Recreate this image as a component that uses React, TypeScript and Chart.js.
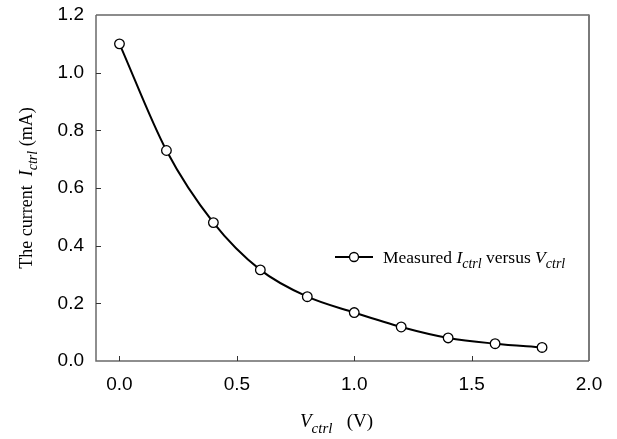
import React, { useEffect, useRef } from "react";
import { Chart, registerables } from "chart.js";

Chart.register(...registerables);

// ---- data ----
const V_CTRL = [0.0, 0.2, 0.4, 0.6, 0.8, 1.0, 1.2, 1.4, 1.6, 1.8];
const I_CTRL = [1.1, 0.73, 0.48, 0.316, 0.223, 0.168, 0.118, 0.08, 0.06, 0.047];
const X_TICKS = [0.0, 0.5, 1.0, 1.5, 2.0];
const Y_TICKS = [0.0, 0.2, 0.4, 0.6, 0.8, 1.0, 1.2];
const X_MIN = -0.1;
const X_MAX = 2.0;
const Y_MIN = 0;
const Y_MAX = 1.2;

const SANS = '"Liberation Sans", Arial, sans-serif';
const SERIF = '"Liberation Serif", "Times New Roman", serif';

type Seg = { t: string; it?: boolean; sub?: boolean };

const Y_TITLE: Seg[] = [
  { t: "The current  " },
  { t: "I", it: true },
  { t: "ctrl", it: true, sub: true },
  { t: " (mA)" },
];
const X_TITLE: Seg[] = [
  { t: "V", it: true },
  { t: "ctrl", it: true, sub: true },
  { t: "   (V)" },
];
const LEGEND_TEXT: Seg[] = [
  { t: "Measured " },
  { t: "I", it: true },
  { t: "ctrl", it: true, sub: true },
  { t: " versus " },
  { t: "V", it: true },
  { t: "ctrl", it: true, sub: true },
];

function drawRich(
  ctx: CanvasRenderingContext2D,
  segs: Seg[],
  x: number,
  y: number,
  size: number,
  align: "left" | "center"
) {
  const subSize = Math.round(size * 0.78);
  const fontOf = (s: Seg) => `${s.it ? "italic " : ""}${s.sub ? subSize : size}px ${SERIF}`;
  let w = 0;
  for (const s of segs) {
    ctx.font = fontOf(s);
    w += ctx.measureText(s.t).width;
  }
  let cx = align === "center" ? x - w / 2 : x;
  ctx.textAlign = "left";
  ctx.textBaseline = "alphabetic";
  ctx.fillStyle = "#000";
  for (const s of segs) {
    ctx.font = fontOf(s);
    ctx.fillText(s.t, cx, y + (s.sub ? size * 0.3 : 0));
    cx += ctx.measureText(s.t).width;
  }
}

const framePlugin = {
  id: "frameAndText",
  afterDraw(chart: any) {
    const ctx: CanvasRenderingContext2D = chart.ctx;
    const { left, right, top, bottom } = chart.chartArea;
    const xs = chart.scales.x;
    const ys = chart.scales.y;
    ctx.save();
    // frame
    ctx.lineCap = "butt";
    ctx.strokeStyle = "#1a1a1a";
    ctx.lineWidth = 1.2;
    ctx.beginPath();
    ctx.moveTo(left, top);
    ctx.lineTo(right, top);
    ctx.stroke();
    ctx.strokeStyle = "#7a7a7a";
    ctx.lineWidth = 2;
    ctx.beginPath();
    ctx.moveTo(right, top - 0.6);
    ctx.lineTo(right, bottom);
    ctx.stroke();
    ctx.strokeStyle = "#6a6a6a";
    ctx.lineWidth = 1.5;
    ctx.beginPath();
    ctx.moveTo(left, top);
    ctx.lineTo(left, bottom);
    ctx.lineTo(right, bottom);
    ctx.stroke();
    // inward ticks
    ctx.strokeStyle = "#333";
    ctx.lineWidth = 1;
    for (const v of X_TICKS) {
      if (v >= X_MAX) continue;
      const px = Math.round(xs.getPixelForValue(v)) + 0.5;
      ctx.beginPath();
      ctx.moveTo(px, bottom);
      ctx.lineTo(px, bottom - 5);
      ctx.stroke();
    }
    for (const v of Y_TICKS) {
      if (v <= Y_MIN || v >= Y_MAX) continue;
      const py = Math.round(ys.getPixelForValue(v)) + 0.5;
      ctx.beginPath();
      ctx.moveTo(left, py);
      ctx.lineTo(left + 5, py);
      ctx.stroke();
    }
    // legend
    const lx = left + 239;
    const ly = top + 242;
    ctx.strokeStyle = "#000";
    ctx.lineWidth = 2;
    ctx.beginPath();
    ctx.moveTo(lx, ly);
    ctx.lineTo(lx + 38, ly);
    ctx.stroke();
    ctx.beginPath();
    ctx.arc(lx + 19, ly, 4.5, 0, Math.PI * 2);
    ctx.fillStyle = "#fff";
    ctx.fill();
    ctx.lineWidth = 1.3;
    ctx.stroke();
    drawRich(ctx, LEGEND_TEXT, lx + 48, ly + 5.5, 17.5, "left");
    // x title
    drawRich(ctx, X_TITLE, (left + right) / 2 - 6, bottom + 66, 19, "center");
    // y title
    ctx.save();
    ctx.translate(32, (top + bottom) / 2);
    ctx.rotate(-Math.PI / 2);
    drawRich(ctx, Y_TITLE, 0, 0, 18, "center");
    ctx.restore();
    ctx.restore();
  },
};

export default function App() {
  const ref = useRef<HTMLCanvasElement | null>(null);
  useEffect(() => {
    document.body.style.margin = "0";
    const canvas = ref.current!;
    const chart = new Chart(canvas, {
      type: "line",
      data: {
        datasets: [
          {
            label: "Measured Ictrl versus Vctrl",
            data: V_CTRL.map((v, i) => ({ x: v, y: I_CTRL[i] })),
            borderColor: "#000",
            borderWidth: 2,
            cubicInterpolationMode: "monotone",
            pointRadius: 4.8,
            pointBackgroundColor: "#fff",
            pointBorderColor: "#000",
            pointBorderWidth: 1.3,
            fill: false,
          },
        ],
      },
      options: {
        responsive: false,
        animation: false,
        events: [],
        layout: { padding: { left: 0, top: 15, right: 28, bottom: 0 } },
        plugins: { legend: { display: false }, tooltip: { enabled: false } },
        scales: {
          x: {
            type: "linear",
            min: X_MIN,
            max: X_MAX,
            afterBuildTicks: (s: any) => {
              s.ticks = X_TICKS.map((v) => ({ value: v }));
            },
            afterFit: (s: any) => {
              s.height = 78;
              s.paddingLeft = 0;
              s.paddingRight = 0;
            },
            grid: { display: false, drawTicks: false },
            border: { display: false },
            ticks: {
              padding: 12,
              maxRotation: 0,
              autoSkip: false,
              color: "#000",
              font: { family: SANS, size: 19 },
              callback: (v: any) => Number(v).toFixed(1),
            },
          },
          y: {
            type: "linear",
            min: Y_MIN,
            max: Y_MAX,
            afterBuildTicks: (s: any) => {
              s.ticks = Y_TICKS.map((v) => ({ value: v }));
            },
            afterFit: (s: any) => {
              s.width = 96;
              s.paddingTop = 0;
              s.paddingBottom = 0;
            },
            grid: { display: false, drawTicks: false },
            border: { display: false },
            ticks: {
              padding: 12,
              autoSkip: false,
              color: "#000",
              font: { family: SANS, size: 19 },
              callback: (v: any) => Number(v).toFixed(1),
            },
          },
        },
      },
      plugins: [framePlugin],
    } as any);
    return () => chart.destroy();
  }, []);
  return (
    <div style={{ width: 617, height: 439 }}>
      <canvas ref={ref} width={617} height={439} />
    </div>
  );
}
